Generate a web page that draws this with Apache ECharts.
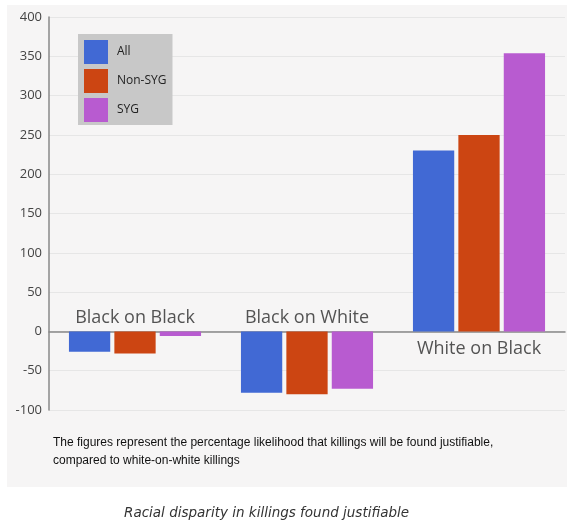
<!DOCTYPE html>
<html><head><meta charset="utf-8">
<script src="https://cdn.jsdelivr.net/npm/echarts@6/dist/echarts.min.js"></script>
<style>html,body{margin:0;padding:0;background:#fff}#c{width:574px;height:523px}</style>
</head><body><div id="c"></div>
<script>
const categories = ['Black on Black', 'Black on White', 'White on Black'];
const seriesNames = ['All', 'Non-SYG', 'SYG'];
const allValues = [-26, -78, 230];
const nonSygValues = [-28, -80, 250];
const sygValues = [-6, -73, 354];
const yTicks = { min: -100, max: 400, interval: 50 };
const noteLines = ['The figures represent the percentage likelihood that killings will be found justifiable,', 'compared to white-on-white killings'];
const captionText = 'Racial disparity in killings found justifiable';

const colors = ['#4169d4', '#cc4512', '#b85bd0'];
const chart = echarts.init(document.getElementById('c'));
const font = '"Open Sans", "Noto Sans", sans-serif';
const catLabelData = categories.map(function (c, i) {
  const above = allValues[i] < 0;
  return {
    value: [c, 0],
    label: { show: true, formatter: c, position: above ? 'top' : 'bottom', distance: above ? 5 : 8 }
  };
});
chart.setOption({
  animation: false,
  backgroundColor: '#ffffff',
  color: colors,
  graphic: [
    { type: 'rect', z: -10, shape: { x: 7, y: 5, width: 560, height: 482 }, style: { fill: '#f6f5f5' } },
    { type: 'text', left: 53, top: 434, style: { text: noteLines.join('\n'), font: '12px "Liberation Sans Narrow", "Liberation Sans", sans-serif', fill: '#111', lineHeight: 18 } },
    { type: 'text', left: 124, top: 506, style: { text: captionText, font: 'italic 13.5px "DejaVu Sans", sans-serif', fill: '#333' } }
  ],
  grid: { left: 49, right: 9, top: 17, bottom: 113, containLabel: false },
  legend: {
    data: seriesNames, orient: 'vertical', left: 78, top: 34,
    backgroundColor: '#c8c8c8', padding: [6, 6, 3, 6],
    itemWidth: 24, itemHeight: 24, itemGap: 5, icon: 'rect',
    textStyle: { fontSize: 12, color: '#222', fontFamily: font, padding: [0, 0, 0, 4] }
  },
  xAxis: {
    type: 'category', data: categories,
    axisLine: { onZero: true, lineStyle: { color: '#888', width: 1.5 } },
    axisTick: { show: false },
    axisLabel: { show: false }
  },
  yAxis: {
    type: 'value', min: yTicks.min, max: yTicks.max, interval: yTicks.interval,
    axisLine: { show: true, lineStyle: { color: '#888', width: 1.5 } },
    axisTick: { show: false },
    axisLabel: { fontSize: 13, color: '#444', margin: 7, fontFamily: font },
    splitLine: { lineStyle: { color: '#e6e6e6' } }
  },
  series: [
    { name: seriesNames[0], type: 'bar', data: allValues, barWidth: '24%', barGap: '10%' },
    { name: seriesNames[1], type: 'bar', data: nonSygValues, barWidth: '24%', barGap: '10%' },
    { name: seriesNames[2], type: 'bar', data: sygValues, barWidth: '24%', barGap: '10%' },
    { type: 'scatter', data: catLabelData, symbolSize: 0, silent: true, z: 5,
      label: { fontSize: 18, color: '#2a2a2a', fontFamily: font } }
  ]
});
</script></body></html>
